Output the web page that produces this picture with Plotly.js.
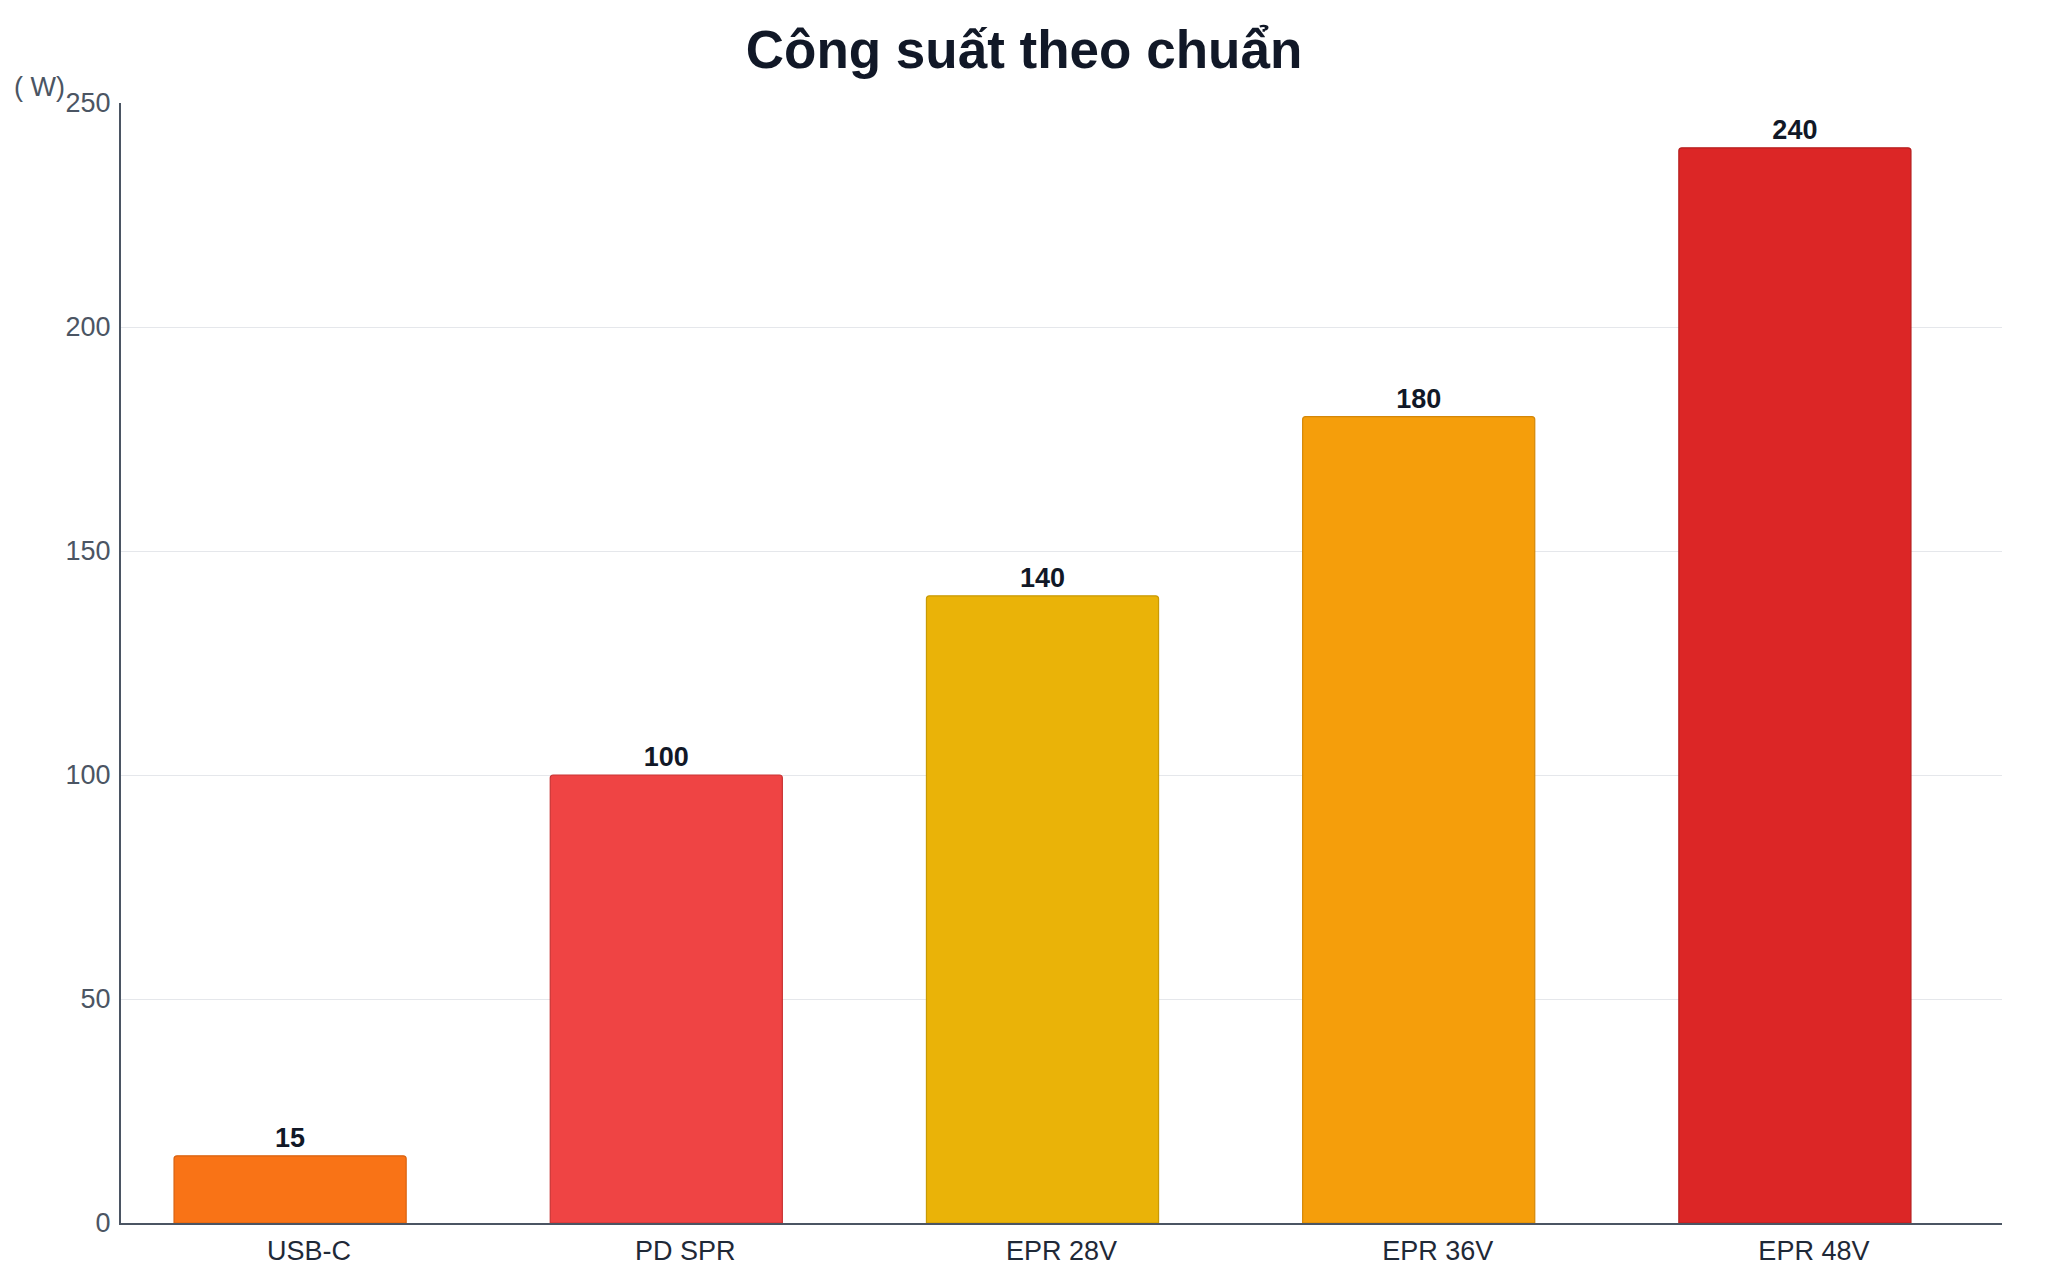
<!DOCTYPE html>
<html>
<head>
<meta charset="utf-8">
<script src="https://cdn.plot.ly/plotly-3.0.1.min.js"></script>
<style>
  html, body { margin: 0; padding: 0; background: #fff; }
  #plot { width: 2048px; height: 1280px; }
</style>
</head>
<body>
<div id="plot"></div>
<script>
// Công suất theo chuẩn — bar chart, watts per USB charging standard.

const categories = ["USB-C", "PD SPR", "EPR 28V", "EPR 36V", "EPR 48V"];
const powerW = [15, 100, 140, 180, 240];
const barColors = ["#f97316", "#ef4444", "#eab308", "#f59e0b", "#dc2626"];
const barEdges = ["#d9620f", "#c93434", "#c99a06", "#d48708", "#b51f1f"];
const yTicks = [0, 50, 100, 150, 200, 250];

const FONT = "Liberation Sans, Arial, Helvetica, sans-serif";

const trace = {
  type: "bar",
  x: categories,
  y: powerW,
  // bars sit a little left of the category centre in the original
  width: 0.617,
  offset: -0.359,
  marker: {
    color: barColors,
    line: { color: barEdges, width: 1.2 },
    cornerradius: 3,
  },
  text: powerW.map(String),
  textposition: "outside",
  textfont: { family: FONT, size: 27, color: "#111827", weight: "bold" },
  cliponaxis: false,
  hoverinfo: "x+y",
  showlegend: false,
};

const layout = {
  width: 2048,
  height: 1280,
  margin: { l: 121, r: 46, t: 103, b: 57 },
  paper_bgcolor: "#ffffff",
  plot_bgcolor: "#ffffff",
  font: { family: FONT },
  title: {
    text: "<b>Công suất theo chuẩn</b>",
    font: { family: FONT, size: 53, color: "#111827" },
    xref: "container", x: 0.5, xanchor: "center",
    yref: "container", y: 1 - 49 / 1280, yanchor: "middle",
  },
  bargap: 0.38,
  xaxis: {
    type: "category",
    showline: true, linecolor: "#4b5563", linewidth: 2,
    showgrid: false, zeroline: false,
    ticks: "", ticklabelstandoff: 3,
    tickfont: { family: FONT, size: 27, color: "#1f2937" },
  },
  yaxis: {
    range: [0, 250],
    tickvals: yTicks,
    showline: true, linecolor: "#4b5563", linewidth: 2,
    showgrid: true, gridcolor: "#e5e7eb", gridwidth: 1,
    zeroline: false,
    ticks: "", ticklabelstandoff: 3,
    tickfont: { family: FONT, size: 27, color: "#4b5563" },
  },
  annotations: [{
    text: "( W)",
    xref: "paper", x: (12 - 121) / 1881, xanchor: "left",
    yref: "paper", y: (1223 - 87) / 1120, yanchor: "middle",
    showarrow: false,
    font: { family: FONT, size: 27, color: "#4b5563" },
  }],
};

Plotly.newPlot("plot", [trace], layout, { displayModeBar: false, staticPlot: true });
</script>
</body>
</html>
